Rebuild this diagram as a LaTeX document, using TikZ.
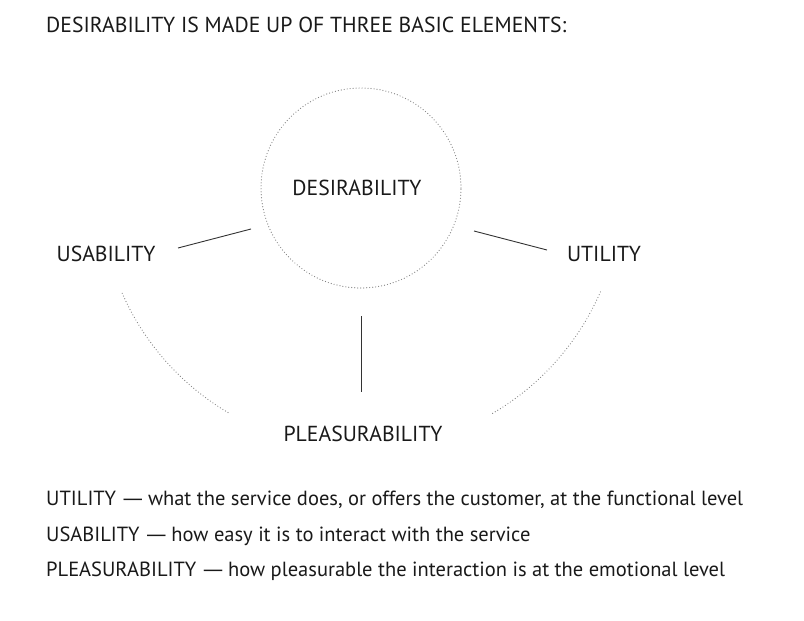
\documentclass[tikz,border=0pt]{standalone}
\usepackage{fontspec}
\setmainfont{PT Sans}
\newfontfamily\dashfont{DejaVu Sans}
\newcommand{\mydash}{\hspace{0.32em}{\dashfont —}\hspace{0.24em}}
\usetikzlibrary{calc}
\begin{document}
\begin{tikzpicture}[x=1pt,y=-1pt,
  lbl/.style={inner sep=0pt, font=\fontsize{21.7}{24}\selectfont, text=black!90},
  txt/.style={inner sep=0pt, anchor=west, font=\fontsize{21.7}{24}\selectfont, text=black!90},
  desc/.style={txt, font=\fontsize{20.5}{24}\selectfont},
  dots/.style={draw=black!50, line width=1.2pt, line cap=round, dash pattern=on 0pt off 3pt},
  link/.style={draw=black!80, line width=0.9pt}]
\useasboundingbox (0,0) rectangle (804,621);
\node[txt] (title) at (46,25) {DESIRABILITY IS MADE UP OF THREE BASIC ELEMENTS:};
\coordinate (c) at (361,188);
\draw[dots] (c) circle [radius=100pt];
\node[lbl] (des) at (357,188) {DESIRABILITY};
\node[lbl] (usa) at (106,254) {USABILITY};
\node[lbl] (uti) at (604,254) {UTILITY};
\node[lbl] (ple) at (363,434) {PLEASURABILITY};
\coordinate (l1) at (178,248); \coordinate (l2) at (251,229);
\coordinate (r1) at (474,231); \coordinate (r2) at (547,250);
\coordinate (v1) at (361,316); \coordinate (v2) at (361,392);
\draw[link] (l1) -- (l2);
\draw[link] (r1) -- (r2);
\draw[link] (v1) -- (v2);
\draw[dots] ($(c)+(203.8:261pt)$) arc [start angle=203.8, end angle=239.5, radius=261pt];
\draw[dots] ($(c)+(300.3:261pt)$) arc [start angle=300.3, end angle=336.6, radius=261pt];
\node[desc] (d1) at (46,500) {UTILITY\mydash what the service does, or offers the customer, at the functional level};
\node[desc] (d2) at (46,536) {USABILITY\mydash how easy it is to interact with the service};
\node[desc] (d3) at (46,571) {PLEASURABILITY\mydash how pleasurable the interaction is at the emotional level};
\end{tikzpicture}
\end{document}
